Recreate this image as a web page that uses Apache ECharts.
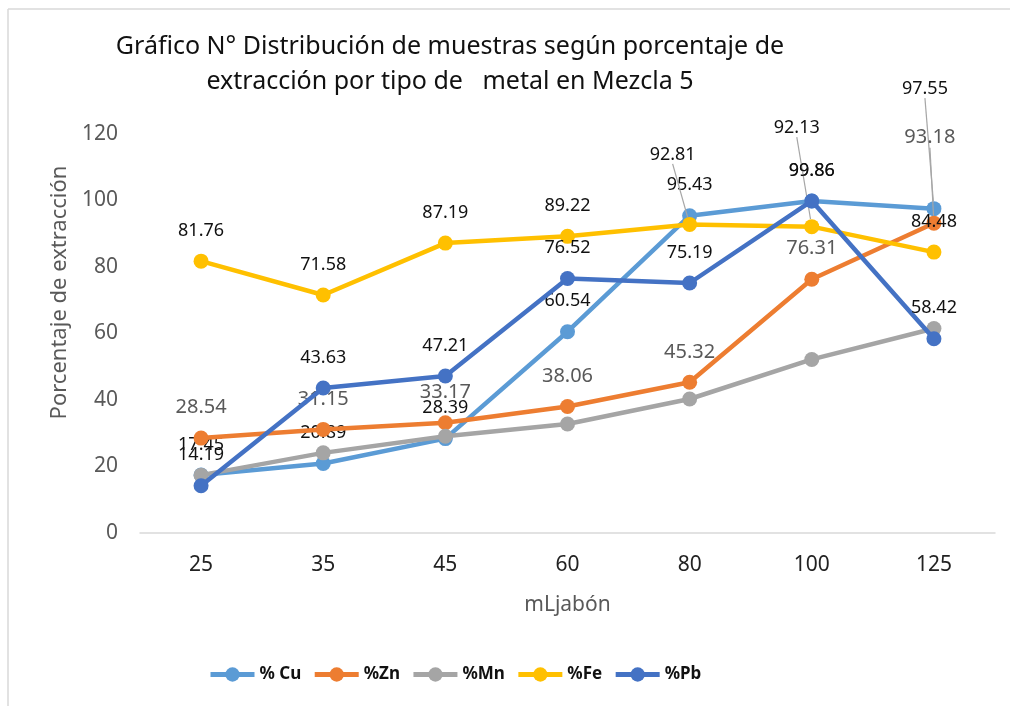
<!DOCTYPE html>
<html>
<head>
<meta charset="utf-8">
<script src="https://cdn.jsdelivr.net/npm/echarts@6/dist/echarts.min.js"></script>
<style>
html,body{margin:0;padding:0;background:#fff;}
#chart{width:1010px;height:706px;}
</style>
</head>
<body>
<div id="chart"></div>
<script>
var categories = ['25', '35', '45', '60', '80', '100', '125'];
var cuValues = [17.45, 20.89, 28.39, 60.54, 95.43, 99.86, 97.55];
var znValues = [28.54, 31.15, 33.17, 38.06, 45.32, 76.31, 93.18];
var mnValues = [17.4, 24.1, 29.1, 32.8, 40.3, 52.2, 61.5];
var feValues = [81.76, 71.58, 87.19, 89.22, 92.81, 92.13, 84.48];
var pbValues = [14.19, 43.63, 47.21, 76.52, 75.19, 99.86, 58.42];
var seriesNames = ['% Cu', '%Zn', '%Mn', '%Fe', '%Pb'];
var yTicks = { min: 0, max: 120, interval: 20 };

var FONT = '"Noto Sans", "Open Sans", sans-serif';
var colors = ['#5B9BD5', '#ED7D31', '#A5A5A5', '#FFC000', '#4472C4'];

// label displacement (leader-line labels), keyed by dataIndex
var moved = {
  0: { 6: [-9, -89] },
  1: { 6: [-4, -55] },
  3: { 4: [-17, -39], 5: [-15, -68] }
};

function makeSeries(idx, values, showLabel, labelColor, labelSize, dist) {
  var mv = moved[idx] || {};
  var data = values.map(function (v, i) {
    if (mv[i]) {
      return { value: v, labelLine: { show: true, lineStyle: { color: '#a6a6a6', width: 1.2 } } };
    }
    return v;
  });
  return {
    name: seriesNames[idx],
    type: 'line',
    data: data,
    symbol: 'circle',
    symbolSize: 15,
    lineStyle: { width: 4.5, color: colors[idx] },
    itemStyle: { color: colors[idx] },
    z: 2 + idx,
    label: {
      show: showLabel,
      position: 'top',
      distance: dist,
      color: labelColor,
      fontFamily: FONT,
      fontSize: labelSize
    },
    labelLayout: function (p) {
      var m = mv[p.dataIndex];
      if (m) return { dx: m[0], dy: m[1] };
      return {};
    },
    emphasis: { disabled: true },
    animation: false
  };
}

var chart = echarts.init(document.getElementById('chart'));
chart.setOption({
  backgroundColor: '#fff',
  animation: false,
  color: colors,
  title: {
    text: 'Gráfico N° Distribución de muestras según porcentaje de\nextracción por tipo de   metal en Mezcla 5',
    left: 445,
    top: 24,
    textAlign: 'center',
    textStyle: {
      fontFamily: FONT,
      fontSize: 25,
      fontWeight: 'normal',
      color: '#111',
      lineHeight: 35
    }
  },
  grid: { left: 140, right: 15, top: 134, bottom: 173 },
  legend: {
    left: 203,
    top: 661,
    itemWidth: 44,
    itemHeight: 18,
    itemGap: 11,
    lineStyle: { width: 5 },
    textStyle: { fontFamily: FONT, fontSize: 17, fontWeight: 'bold', color: '#111' },
    data: seriesNames.map(function (n) { return { name: n, lineStyle: { width: 5 } }; })
  },
  xAxis: {
    type: 'category',
    data: categories,
    boundaryGap: true,
    name: 'mLjabón',
    nameLocation: 'middle',
    nameGap: 62,
    nameTextStyle: { fontFamily: FONT, fontSize: 21, color: '#595959' },
    axisLine: { lineStyle: { color: '#d9d9d9', width: 1.5 } },
    axisTick: { show: false },
    axisLabel: { margin: 22, fontFamily: FONT, fontSize: 21, color: '#222' },
    splitLine: { show: false }
  },
  yAxis: {
    type: 'value',
    min: yTicks.min,
    max: yTicks.max,
    interval: yTicks.interval,
    name: 'Porcentaje de extracción',
    nameLocation: 'middle',
    nameGap: 67,
    nameTextStyle: { fontFamily: FONT, fontSize: 22, color: '#595959', padding: [0, 0, 0, 82] },
    axisLine: { show: false },
    axisTick: { show: false },
    axisLabel: { margin: 22, fontFamily: FONT, fontSize: 21, color: '#595959' },
    splitLine: { show: false }
  },
  graphic: [
    { type: 'line', shape: { x1: 8, y1: 9, x2: 1010, y2: 9 }, style: { stroke: '#d9d9d9', lineWidth: 1.5 }, silent: true },
    { type: 'line', shape: { x1: 8, y1: 9, x2: 8, y2: 706 }, style: { stroke: '#d9d9d9', lineWidth: 1.5 }, silent: true }
  ],
  series: [
    makeSeries(0, cuValues, true, '#111', 18, 14),
    makeSeries(1, znValues, true, '#595959', 20, 13),
    makeSeries(2, mnValues, false, '#111', 18, 14),
    makeSeries(3, feValues, true, '#111', 18, 14),
    makeSeries(4, pbValues, true, '#111', 18, 14)
  ]
});
</script>
</body>
</html>
